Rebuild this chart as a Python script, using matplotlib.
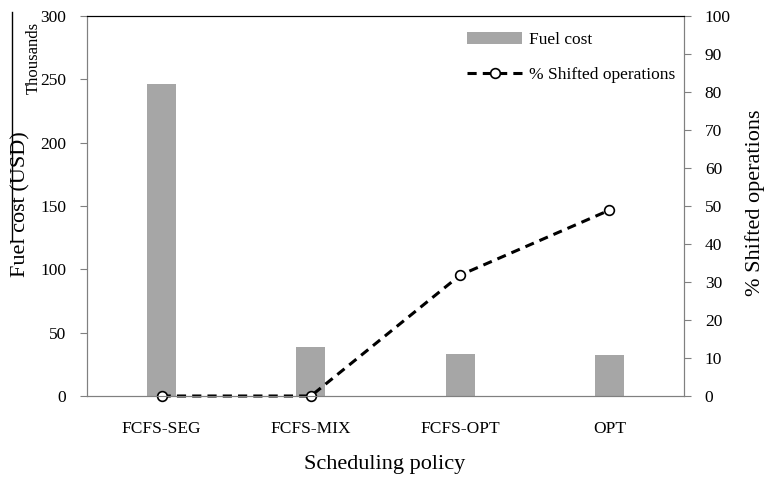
import matplotlib.pyplot as plt
from matplotlib.lines import Line2D

policies = ["FCFS-SEG", "FCFS-MIX", "FCFS-OPT", "OPT"]
fuel_cost = [246, 39, 33, 32]          # thousands of USD
shifted_ops = [0, 0, 31.8, 48.9]       # percent

plt.rcParams["font.family"] = ["Liberation Serif", "DejaVu Serif"]

W, H = 766, 478
fig = plt.figure(figsize=(W / 100, H / 100), dpi=100)
ax = fig.add_axes([87 / W, 82 / H, 597 / W, 380 / H])
ax2 = ax.twinx()

pos = [i + 0.5 for i in range(len(policies))]
bars = ax.bar(pos, fuel_cost, width=0.195, color="#a6a6a6", label="Fuel cost", zorder=2)
line, = ax2.plot(pos, shifted_ops, color="black", linestyle="--", linewidth=2.2,
                 dashes=(3, 2), marker="o", markersize=7, markerfacecolor="white",
                 markeredgecolor="black", markeredgewidth=1.2,
                 label="% Shifted operations", clip_on=False)

ax.set_xlim(0, 4)
ax.set_ylim(0, 300)
ax2.set_ylim(0, 100)
ax.set_yticks(range(0, 301, 50))
ax2.set_yticks(range(0, 101, 10))
ax.set_xticks(pos)
ax.set_xticklabels(policies)

for a in (ax, ax2):
    for side in ("left", "right", "bottom"):
        a.spines[side].set_color("#808080")
    a.spines["top"].set_color("black")
    a.tick_params(axis="y", colors="#808080", length=5, labelsize=12.5, labelcolor="black")
ax.tick_params(axis="x", length=0, labelsize=12.5, pad=18)
ax.tick_params(axis="y", pad=10)
ax2.tick_params(axis="y", pad=10)

# axis titles placed where the reference has them
fig.text(21 / W, 1 - 204 / H, "Fuel cost (USD)", rotation=90, fontsize=16,
         ha="center", va="center")
fig.text(755 / W, 1 - 203 / H, "% Shifted operations", rotation=90, fontsize=16,
         ha="center", va="center")
fig.text(385 / W, 1 - 465 / H, "Scheduling policy", fontsize=16,
         ha="center", va="center")
fig.text(34 / W, 1 - 58 / H, "Thousands", rotation=90, fontsize=12,
         ha="center", va="center")

fig.add_artist(Line2D([12 / W, 12 / W], [1 - 12 / H, 1 - 240 / H],
                      color="black", linewidth=1))

ax2.legend([bars, line], ["Fuel cost", "% Shifted operations"], loc="upper right",
           bbox_to_anchor=(1.012, 1.0), frameon=False, fontsize=12.5,
           handlelength=3.2, labelspacing=1.1, handletextpad=0.4)

fig.savefig("out.png", dpi=100)
